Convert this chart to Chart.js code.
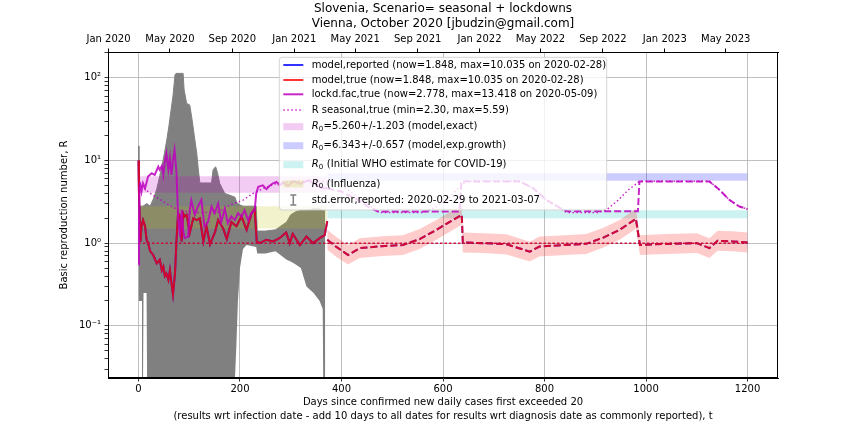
<!DOCTYPE html>
<html>
<head>
<meta charset="utf-8">
<script src="https://cdn.jsdelivr.net/npm/chart.js@4.4.0/dist/chart.umd.min.js"></script>
<style>
  html, body { margin: 0; padding: 0; background: #fff; }
  #wrap { width: 864px; height: 432px; }
</style>
</head>
<body>
<div id="wrap"><canvas id="chart"></canvas></div>
<script>
// day 0 = 2020-02-29 (new daily cases first exceeded 20)
const bottomTicks = [0, 200, 400, 600, 800, 1000, 1200];
const topTickDays = [-59, 62, 185, 307, 427, 550, 672, 792, 915, 1037, 1157];
const topTickLabels = ['Jan 2020', 'May 2020', 'Sep 2020', 'Jan 2021', 'May 2021', 'Sep 2021',
  'Jan 2022', 'May 2022', 'Sep 2022', 'Jan 2023', 'May 2023'];
const yDecades = [0.1, 1, 10, 100];
const yDecadeLabels = ['10⁻¹', '10⁰', '10¹', '10²'];

// std.error of reported R (error bar ends)
const errDays = [0, 1, 7, 8, 9, 10, 16, 17, 23, 30, 36, 42, 47, 52, 56, 60, 64, 68, 72, 74,
  88, 90, 95, 101, 105, 110, 115, 118, 121, 144, 147, 152, 156, 160, 165, 170, 190, 193, 196, 200,
  206, 213, 232, 234, 250, 270, 292, 300, 310, 320, 331, 345, 357, 363, 364, 367, 368];
const errLo = [0.6, 0.2, 0.2, 0.022, 0.022, 0.25, 0.25, 0.022, 0.022, 0.022,
  0.022, 0.022, 0.022, 0.022, 0.022, 0.022, 0.022, 0.022, 0.022, 0.022,
  0.022, 0.022, 0.022, 0.022, 0.022, 0.022, 0.022, 0.022, 0.022, 0.022,
  0.022, 0.022, 0.022, 0.022, 0.022, 0.022, 0.022, 0.06, 0.2, 0.5,
  0.85, 0.95, 0.9, 0.75, 0.75, 0.8, 0.63, 0.6, 0.55, 0.5,
  0.3, 0.25, 0.2, 0.16, 0.022, 0.022, 0.022];
const errHi = [15, 2.8, 2.8, 2.8, 2.8, 2.8, 3.0, 3.0, 2.8, 3.5,
  4.5, 6.5, 9, 13, 18, 26, 40, 60, 108, 113,
  113, 71, 49, 47, 33, 20, 12, 7.7, 5.35, 5.35,
  7.7, 8.4, 7.0, 5.3, 4.6, 4.0, 3.6, 3.2, 3.0, 2.9,
  2.8, 2.8, 2.8, 1.4, 1.4, 1.45, 1.8, 2.2, 2.4, 2.5,
  2.5, 2.6, 2.6, 2.5, 2.5, 2.5, 2.5];

// model R (true == reported), fitted part
const modelDays = [0, 1, 4, 6, 9, 13, 16, 19, 23, 29, 36, 42, 46, 49, 52, 55, 59, 62, 65, 68,
  72, 75, 78, 82, 85, 88, 91, 95, 101, 108, 115, 121, 128, 134, 141, 151, 157, 167, 174, 183,
  193, 203, 213, 223, 229, 233, 239, 252, 265, 278, 291, 298, 304, 318, 331, 344, 357, 367, 372];
const modelR = [10.0, 4.0, 1.05, 1.6, 1.9, 1.6, 1.1, 1.0, 0.8, 0.72, 0.57, 0.63, 0.47, 0.52, 0.40, 0.43, 0.36, 0.47, 0.33, 0.24,
  0.43, 1.1, 2.3, 2.1, 1.05, 2.3, 2.1, 2.2, 1.33, 2.0, 1.9, 2.0, 1.05, 1.6, 0.97, 1.37, 1.9, 1.5, 1.12, 1.8,
  1.6, 2.1, 1.45, 2.3, 2.6, 1.05, 1.0, 1.1, 1.05, 1.15, 1.35, 1.0, 1.3, 0.95, 1.2, 1.0, 1.15, 1.25, 1.85];

// model R, prediction with uncertainty band
const predDays = [372, 390, 413, 436, 480, 521, 554, 587, 620, 637, 639, 680, 725, 771, 790, 840, 882, 915, 948, 980,
  988, 1040, 1100, 1125, 1141, 1170, 1200];
const predR = [1.1, 0.9, 0.72, 0.87, 0.92, 0.95, 1.12, 1.45, 1.91, 2.2, 1.02, 1.0, 0.97, 0.79, 0.91, 0.95, 0.98, 1.16, 1.45, 1.97,
  0.95, 0.98, 1.0, 0.87, 1.07, 1.05, 1.02];
const predLo = [0.83, 0.68, 0.55, 0.66, 0.70, 0.72, 0.85, 1.10, 1.45, 1.67, 0.77, 0.76, 0.73, 0.60, 0.69, 0.72, 0.74, 0.88, 1.10, 1.49,
  0.72, 0.74, 0.76, 0.66, 0.81, 0.80, 0.77];
const predHi = [1.45, 1.19, 0.95, 1.15, 1.21, 1.25, 1.48, 1.91, 2.52, 2.9, 1.35, 1.32, 1.28, 1.04, 1.20, 1.25, 1.29, 1.53, 1.91, 2.6,
  1.25, 1.29, 1.32, 1.15, 1.41, 1.39, 1.35];

// lockdown factor, true
const lockdDays = [0, 1, 2, 3, 6, 9, 13, 19, 26, 32, 39, 42, 46, 49, 52, 55, 59, 62, 65, 68,
  71, 75, 78, 82, 85, 88, 91, 98, 101, 104, 111, 117, 124, 130, 137, 144, 150, 157, 163, 170,
  176, 183, 190, 196, 203, 209, 216, 222, 229, 232, 236, 245, 252, 258, 265, 272, 278, 285, 295, 305,
  320, 335, 350, 362, 372];
const lockdR = [0.55, 1.6, 4.8, 5.5, 4.2, 5.3, 4.6, 6.4, 7.0, 6.7, 8.4, 7.7, 8.6, 6.7, 9.7, 12.2, 7.7, 10.6, 6.7, 10.2,
  13.4, 7.0, 2.1, 1.2, 2.5, 1.45, 1.15, 1.2, 2.5, 3.3, 2.2, 2.77, 3.34, 1.59, 1.8, 2.77, 2.3, 3.0, 1.8, 2.6,
  1.75, 2.1, 1.9, 2.3, 2.1, 2.5, 1.9, 2.3, 2.5, 4.0, 4.8, 5.0, 4.5, 4.9, 5.3, 5.5, 5.0, 5.4, 4.9, 5.6,
  5.2, 5.8, 5.1, 4.6, 4.6];
const lockdFutDays = [372, 400, 430, 455, 472, 633, 636, 751, 777, 803, 830, 845, 984, 987, 1125, 1145, 1164, 1184, 1200];
const lockdFutR = [4.6, 4.2, 3.4, 2.7, 2.41, 2.41, 5.57, 5.57, 4.65, 3.34, 2.67, 2.43, 2.43, 5.57, 5.57, 4.4, 3.34, 2.77, 2.58];

// seasonal R, true
const seasDays = [0, 3, 23, 49, 75, 102, 155, 181, 207, 226, 246, 273, 300, 380, 400, 425, 450, 475, 560, 585,
  607, 627, 646, 751, 777, 803, 830, 843, 905, 922, 945, 965, 987, 1125, 1145, 1164, 1184, 1200];
const seasR = [5.4, 5.06, 4.0, 3.18, 2.58, 2.35, 2.35, 2.9, 3.34, 4.0, 4.6, 5.3, 5.59, 5.59, 5.0, 3.9, 3.0, 2.35, 2.35, 2.7,
  3.34, 4.4, 5.59, 5.59, 4.65, 3.34, 2.67, 2.35, 2.35, 2.53, 3.3, 4.4, 5.59, 5.59, 4.4, 3.34, 2.77, 2.58];

// reference R0 bands
const r0Exact = 5.260, r0ExactErr = 1.203;
const r0Growth = 6.343, r0GrowthErr = 0.657;
const whoRange = [2.0, 2.5];
const fluRange = [1.5, 2.8];
const fitSpan = [0, 372];
const predSpan = [372, 1200];
const unityDays = [0, 1200];

const blue = 'rgba(0,0,255,0.8)';
const red = 'rgba(255,0,0,0.8)';
const magenta = 'rgba(191,0,191,0.85)';
const FONT = '"DejaVu Sans", sans-serif';

Chart.defaults.font.family = FONT;
Chart.defaults.font.size = 10;
Chart.defaults.color = '#000';

const pts = (xs, ys) => xs.map((x, i) => ({ x: x, y: ys[i] }));
const flat = (span, v) => span.map(x => ({ x: x, y: v }));
const clear = 'rgba(0,0,0,0)';

function band(span, lo, hi, color, order) {
  return { data: flat(span, hi), fill: { value: lo }, backgroundColor: color,
    borderColor: clear, borderWidth: 0, order: order };
}

// minor ticks for the log axis
const yTicks = [];
[-2, -1, 0, 1, 2].forEach(e => {
  for (let m = 1; m <= 9; m++) {
    const v = m * Math.pow(10, e);
    if (v >= 0.0234 && v <= 205) yTicks.push(v);
  }
});
const isDecade = v => yDecades.some(d => Math.abs(v / d - 1) < 1e-6);

const legendItems = [
  { kind: 'line', color: blue, text: 'model,reported (now=1.848, max=10.035 on 2020-02-28)' },
  { kind: 'line', color: red, text: 'model,true (now=1.848, max=10.035 on 2020-02-28)' },
  { kind: 'line', color: magenta, text: 'lockd.fac,true (now=2.778, max=13.418 on 2020-05-09)' },
  { kind: 'dot', color: magenta, text: 'R seasonal,true (min=2.30, max=5.59)' },
  { kind: 'patch', color: 'rgba(191,0,191,0.2)', text: 'R₀=5.260+/-1.203 (model,exact)' },
  { kind: 'patch', color: 'rgba(0,0,255,0.2)', text: 'R₀=6.343+/-0.657 (model,exp.growth)' },
  { kind: 'patch', color: 'rgba(0,191,191,0.2)', text: 'R₀ (Initial WHO estimate for COVID-19)' },
  { kind: 'patch', color: 'rgba(191,191,0,0.2)', text: 'R₀ (Influenza)' },
  { kind: 'err', color: '#808080', text: 'std.error,reported: 2020-02-29 to 2021-03-07' }
];
const legendRowY = [13, 28, 42.3, 58, 74.7, 93.7, 112.7, 132, 148];

function drawLabel(ctx, text, x, y) {
  if (text.startsWith('R₀')) {
    ctx.font = 'italic 10px ' + FONT;
    ctx.fillText('R', x, y);
    x += ctx.measureText('R').width;
    ctx.font = '7px ' + FONT;
    ctx.fillText('0', x, y + 2.5);
    x += ctx.measureText('0').width + 0.5;
    text = text.slice(2);
  }
  ctx.font = '10px ' + FONT;
  ctx.fillText(text, x, y);
}

const framePlugin = {
  id: 'frameAndLegend',
  afterDatasetsDraw(chart) {
    const { ctx, chartArea: a } = chart;
    ctx.save();
    ctx.strokeStyle = '#000';
    ctx.lineWidth = 1;
    ctx.strokeRect(a.left + 0.5, a.top + 0.5, a.right - a.left - 1, a.bottom - a.top - 1);

    const x0 = a.left + 171.3, y0 = a.top + 5.3, w = 327.4, h = 152.7;
    ctx.beginPath();
    ctx.roundRect(x0, y0, w, h, 3);
    ctx.fillStyle = 'rgba(255,255,255,0.8)';
    ctx.fill();
    ctx.strokeStyle = 'rgba(204,204,204,0.8)';
    ctx.stroke();

    const hx0 = x0 + 4, hx1 = x0 + 24, tx = x0 + 32.4;
    ctx.textBaseline = 'middle';
    legendItems.forEach((it, i) => {
      const y = a.top + legendRowY[i];
      ctx.setLineDash([]);
      if (it.kind === 'line' || it.kind === 'dot') {
        ctx.strokeStyle = it.color;
        ctx.lineWidth = it.kind === 'line' ? 2 : 1.5;
        if (it.kind === 'dot') ctx.setLineDash([1.5, 2.5]);
        ctx.beginPath();
        ctx.moveTo(hx0, y);
        ctx.lineTo(hx1, y);
        ctx.stroke();
        ctx.setLineDash([]);
      } else if (it.kind === 'patch') {
        ctx.fillStyle = it.color;
        ctx.fillRect(hx0, y - 3.5, hx1 - hx0, 7);
      } else if (it.kind === 'err') {
        const cx = (hx0 + hx1) / 2;
        ctx.strokeStyle = it.color;
        ctx.lineWidth = 1.5;
        ctx.beginPath();
        ctx.moveTo(cx, y - 5); ctx.lineTo(cx, y + 5);
        ctx.moveTo(cx - 3, y - 5); ctx.lineTo(cx + 3, y - 5);
        ctx.moveTo(cx - 3, y + 5); ctx.lineTo(cx + 3, y + 5);
        ctx.stroke();
      }
      ctx.fillStyle = '#000';
      drawLabel(ctx, it.text, tx, y);
    });
    ctx.restore();
  }
};

const datasets = [
  // 0,1: error bars (reported)
  { data: pts(errDays, errLo), borderColor: clear, borderWidth: 0, order: 11 },
  { data: pts(errDays, errHi), fill: '-1', backgroundColor: '#808080', borderColor: '#808080', borderWidth: 1, order: 10 },
  // 2-5: R0 bands
  band(fitSpan, r0Exact - r0ExactErr, r0Exact + r0ExactErr, 'rgba(191,0,191,0.2)', 8),
  band(predSpan, r0Growth - r0GrowthErr, r0Growth + r0GrowthErr, 'rgba(0,0,255,0.2)', 8),
  band(predSpan, whoRange[0], whoRange[1], 'rgba(0,191,191,0.2)', 8),
  band(fitSpan, fluRange[0], fluRange[1], 'rgba(191,191,0,0.2)', 8),
  // 6,7: prediction uncertainty
  { data: pts(predDays, predLo), borderColor: clear, borderWidth: 0, order: 7 },
  { data: pts(predDays, predHi), fill: '-1', backgroundColor: 'rgba(255,0,0,0.2)', borderColor: clear, borderWidth: 0, order: 7 },
  // 8: R = 1
  { data: flat(unityDays, 1), borderColor: 'rgba(204,0,51,0.9)', borderWidth: 1.5, borderDash: [2.5, 2], order: 5 },
  // 9: seasonal
  { data: pts(seasDays, seasR), borderColor: magenta, borderWidth: 1.5, borderDash: [1.5, 2.5], order: 4 },
  // 10-13: model reported / true
  { data: pts(modelDays, modelR), borderColor: blue, borderWidth: 2, order: 3 },
  { data: pts(predDays, predR), borderColor: blue, borderWidth: 2, borderDash: [7, 3], order: 3 },
  { data: pts(modelDays, modelR), borderColor: red, borderWidth: 2, order: 2 },
  { data: pts(predDays, predR), borderColor: red, borderWidth: 2, borderDash: [7, 3], order: 2 },
  // 14,15: lockdown factor
  { data: pts(lockdDays, lockdR), borderColor: magenta, borderWidth: 2, order: 1 },
  { data: pts(lockdFutDays, lockdFutR), borderColor: magenta, borderWidth: 2, borderDash: [7, 3], order: 1 }
];

new Chart(document.getElementById('chart'), {
  type: 'line',
  data: { datasets: datasets },
  options: {
    responsive: true,
    maintainAspectRatio: false,
    animation: false,
    layout: { padding: { top: 2, right: 86, bottom: 0, left: 0 } },
    elements: { point: { radius: 0, hitRadius: 0 }, line: { tension: 0 } },
    plugins: {
      legend: { display: false },
      tooltip: { enabled: false },
      title: {
        display: true,
        fullSize: false,
        text: ['Slovenia, Scenario= seasonal + lockdowns', 'Vienna, October 2020 [jbudzin@gmail.com]'],
        font: { size: 12, lineHeight: 1.2, weight: 'normal' },
        color: '#000',
        padding: { top: 0, bottom: 0 }
      }
    },
    scales: {
      x: {
        type: 'linear',
        position: 'bottom',
        min: -60,
        max: 1260,
        afterBuildTicks: s => { s.ticks = bottomTicks.map(v => ({ value: v })); },
        afterFit: s => { s.height = 54; },
        ticks: { autoSkip: false, maxRotation: 0, padding: 2, font: { size: 10 }, callback: v => String(v) },
        grid: { color: '#b0b0b0', lineWidth: 0.8, tickColor: '#000', tickLength: 3.5 },
        border: { color: '#000', width: 1 },
        title: {
          display: true,
          text: ['Days since confirmed new daily cases first exceeded 20',
            '(results wrt infection date - add 10 days to all dates for results wrt diagnosis date as commonly reported), t'],
          font: { size: 10, lineHeight: 1.4 },
          padding: { top: 0, bottom: 9 }
        }
      },
      x2: {
        type: 'linear',
        position: 'top',
        min: -60,
        max: 1260,
        afterBuildTicks: s => { s.ticks = topTickDays.map(v => ({ value: v })); },
        afterFit: s => { s.height = 21.2; },
        ticks: {
          autoSkip: false, maxRotation: 0, padding: 3, font: { size: 10 },
          callback: v => topTickLabels[topTickDays.indexOf(v)]
        },
        grid: { drawOnChartArea: false, tickColor: '#000', tickLength: 3.5 },
        border: { color: '#000', width: 1 }
      },
      y: {
        type: 'logarithmic',
        min: 0.0234,
        max: 205,
        afterBuildTicks: s => { s.ticks = yTicks.map(v => ({ value: v })); },
        afterFit: s => { s.width = 108; },
        ticks: {
          autoSkip: false, padding: 3.5, font: { size: 10 },
          callback: v => isDecade(v) ? yDecadeLabels[yDecades.findIndex(d => Math.abs(v / d - 1) < 1e-6)] : ''
        },
        grid: {
          color: c => (c.tick && isDecade(c.tick.value)) ? '#b0b0b0' : clear,
          lineWidth: 0.8, tickColor: '#000', tickLength: 3.5
        },
        border: { color: '#000', width: 1 },
        title: {
          display: true,
          text: 'Basic reproduction number, R',
          font: { size: 10, lineHeight: 1.2 },
          padding: { top: 58, bottom: 0 }
        }
      }
    }
  },
  plugins: [framePlugin]
});
</script>
</body>
</html>
